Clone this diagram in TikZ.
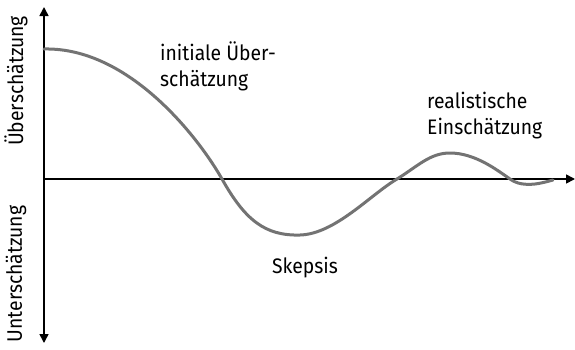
\documentclass[tikz,border=0pt]{standalone}
\usepackage{fontspec}
\setmainfont{Fira Sans}[FakeStretch=0.92]
\usetikzlibrary{arrows.meta}
\begin{document}
\begin{tikzpicture}[x=1pt,y=-1pt,
  axis/.style={line width=1.6pt,-{Triangle[length=9pt,width=9pt]}},
  curve/.style={line width=3pt,color=black!55,line cap=round},
  lbl/.style={font=\fontsize{21}{26}\selectfont,align=left,inner sep=0pt}]
\useasboundingbox (0,0) rectangle (575,349);
\coordinate (o) at (44,179);
\coordinate (top) at (44,7);
\coordinate (bot) at (44,343);
\coordinate (right) at (575,179);
\draw[axis] (o) -- (top);
\draw[axis] (o) -- (bot);
\draw[axis] (o) -- (right);
\draw[curve] (44,49) .. controls (130,47) and (200,140) .. (222,179)
  .. controls (245,220) and (265,236) .. (300,235)
  .. controls (335,234) and (370,195) .. (397,179)
  .. controls (418,166) and (430,153) .. (450,153)
  .. controls (475,153) and (497,170) .. (510,179)
  .. controls (517,184) and (525,185) .. (535,184)
  .. controls (543,183) and (549,181) .. (553,180);
\node[lbl,anchor=north west] (ini) at (160,41.5) {initiale Über-\\schätzung};
\node[lbl,anchor=north west] (real) at (427,92) {realistische\\Einschätzung};
\node[lbl,anchor=north] (skep) at (305,256.5) {Skepsis};
\node[lbl,rotate=90] (ueb) at (16,81) {Überschätzung};
\node[lbl,rotate=90] (unt) at (16,274) {Unterschätzung};
\end{tikzpicture}
\end{document}
